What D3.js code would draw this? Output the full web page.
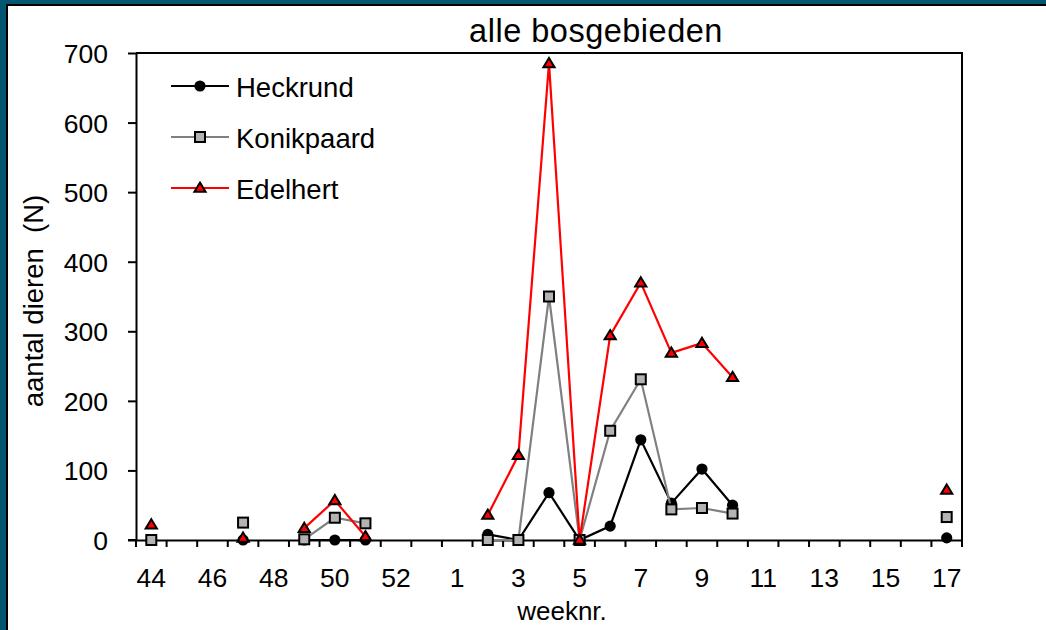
<!DOCTYPE html>
<html>
<head>
<meta charset="utf-8">
<script src="https://cdn.jsdelivr.net/npm/d3@7"></script>
<style>
  html, body { margin: 0; padding: 0; background: #02566f; }
  svg { display: block; }
  text { font-family: "Liberation Sans", Arial, sans-serif; fill: #000; }
</style>
</head>
<body>
<svg id="chart" width="1046" height="630"></svg>
<script>
// ---- data ----
const weeks = ["44","45","46","47","48","49","50","51","52","53","1","2","3","4","5","6","7","8","9","10","11","12","13","14","15","16","17"];
const heckrund   = [0,null,null,0,null,0,0,0,null,null,null,8,0,68,0,20,144,53,102,50,null,null,null,null,null,null,3];
const konikpaard = [0,null,null,25,null,1,32,24,null,null,null,0,0,350,0,157,231,44,46,38,null,null,null,null,null,null,33];
const edelhert   = [22,null,null,3,null,17,57,5,null,null,null,36,122,685,0,294,370,269,283,234,null,null,null,null,null,null,72];
const yTicks = [0,100,200,300,400,500,600,700];
const seriesNames = ["Heckrund","Konikpaard","Edelhert"];

const title = "alle bosgebieden";
const xTitle = "weeknr.";
const yTitle = "aantal dieren  (N)";

// ---- layout ----
const svg = d3.select("#chart");
const L = 136, R = 962, T = 53, B = 540;

// panel
svg.append("rect").attr("x", 0).attr("y", 0).attr("width", 1046).attr("height", 630).attr("fill", "#02566f");
svg.append("rect").attr("x", 7).attr("y", 5).attr("width", 1046).attr("height", 640)
  .attr("fill", "#fff").attr("stroke", "#000").attr("stroke-width", 2);

const x = d3.scaleBand().domain(weeks).range([L, R]).padding(0);
const y = d3.scaleLinear().domain([0, 700]).range([B, T]);
const cx = w => x(w) + x.bandwidth() / 2;

// plot frame (top and right)
svg.append("path").attr("d", `M${L},${T}H${R}V${B}`).attr("fill", "none").attr("stroke", "#000").attr("stroke-width", 2);

// y axis
const yAxis = svg.append("g").attr("transform", `translate(${L},0)`)
  .call(d3.axisLeft(y).tickValues(yTicks).tickSize(8).tickPadding(20).tickSizeOuter(0));
yAxis.select(".domain").attr("stroke-width", 2);
yAxis.selectAll(".tick line").attr("stroke-width", 2);
yAxis.selectAll(".tick text").attr("font-size", 26.5).attr("font-family", "Liberation Sans, Arial, sans-serif").attr("dy", "0.36em");

// x axis
const labelWeeks = weeks.filter((w, i) => i % 2 === 0);
const xAxis = svg.append("g").attr("transform", `translate(0,${B})`)
  .call(d3.axisBottom(x).tickValues(labelWeeks).tickSize(0).tickPadding(28).tickSizeOuter(0));
xAxis.select(".domain").attr("stroke-width", 2);
xAxis.selectAll(".tick text").attr("font-size", 26.5).attr("font-family", "Liberation Sans, Arial, sans-serif");
// boundary tick marks between categories
const bounds = d3.range(weeks.length + 1).map(i => x.range()[0] + i * x.step());
svg.append("g").selectAll("line").data(bounds).join("line")
  .attr("x1", d => d).attr("x2", d => d).attr("y1", B).attr("y2", B + 7)
  .attr("stroke", "#000").attr("stroke-width", 2);
// left tick at zero
svg.append("line").attr("x1", L - 8).attr("x2", L).attr("y1", B).attr("y2", B).attr("stroke", "#000").attr("stroke-width", 2);

// titles
svg.append("text").attr("x", 596).attr("y", 42).attr("text-anchor", "middle")
  .attr("font-size", 32.5).attr("letter-spacing", "0.5px").text(title);
svg.append("text").attr("x", 562).attr("y", 620).attr("text-anchor", "middle")
  .attr("font-size", 26).text(xTitle);
svg.append("text").attr("transform", "translate(43,301) rotate(-90)").attr("text-anchor", "middle")
  .attr("font-size", 27.5).style("white-space", "pre").text(yTitle);

// ---- series ----
const styles = [
  { data: heckrund, color: "#000000", marker: "circle" },
  { data: konikpaard, color: "#808080", marker: "square" },
  { data: edelhert, color: "#ff0000", marker: "triangle" }
];

function drawMarker(g, type, px, py) {
  if (type === "circle") {
    g.append("circle").attr("cx", px).attr("cy", py).attr("r", 5.6).attr("fill", "#000");
  } else if (type === "square") {
    g.append("rect").attr("x", px - 5).attr("y", py - 5).attr("width", 10).attr("height", 10)
      .attr("fill", "#b3b3b3").attr("stroke", "#000").attr("stroke-width", 2);
  } else {
    g.append("path").attr("d", `M${px},${py - 5.4} L${px + 5.6},${py + 3.8} L${px - 5.6},${py + 3.8} Z`)
      .attr("fill", "#ff0000").attr("stroke", "#000").attr("stroke-width", 2).attr("stroke-linejoin", "miter");
  }
}

const line = d3.line()
  .defined(d => d.v !== null)
  .x(d => cx(d.w))
  .y(d => y(d.v));

styles.forEach(s => {
  const pts = weeks.map((w, i) => ({ w, v: s.data[i] }));
  const g = svg.append("g");
  g.append("path").datum(pts).attr("d", line).attr("fill", "none")
    .attr("stroke", s.color).attr("stroke-width", 2.2);
  pts.filter(d => d.v !== null).forEach(d => drawMarker(g, s.marker, cx(d.w), y(d.v)));
});

// ---- legend ----
const legY = [86, 137, 188];
styles.forEach((s, i) => {
  const g = svg.append("g");
  g.append("line").attr("x1", 171).attr("x2", 229).attr("y1", legY[i]).attr("y2", legY[i])
    .attr("stroke", s.color).attr("stroke-width", 2.2);
  drawMarker(g, s.marker, 200, legY[i]);
  g.append("text").attr("x", 236).attr("y", legY[i] + 11).attr("font-size", 27.5).text(seriesNames[i]);
});
</script>
</body>
</html>
